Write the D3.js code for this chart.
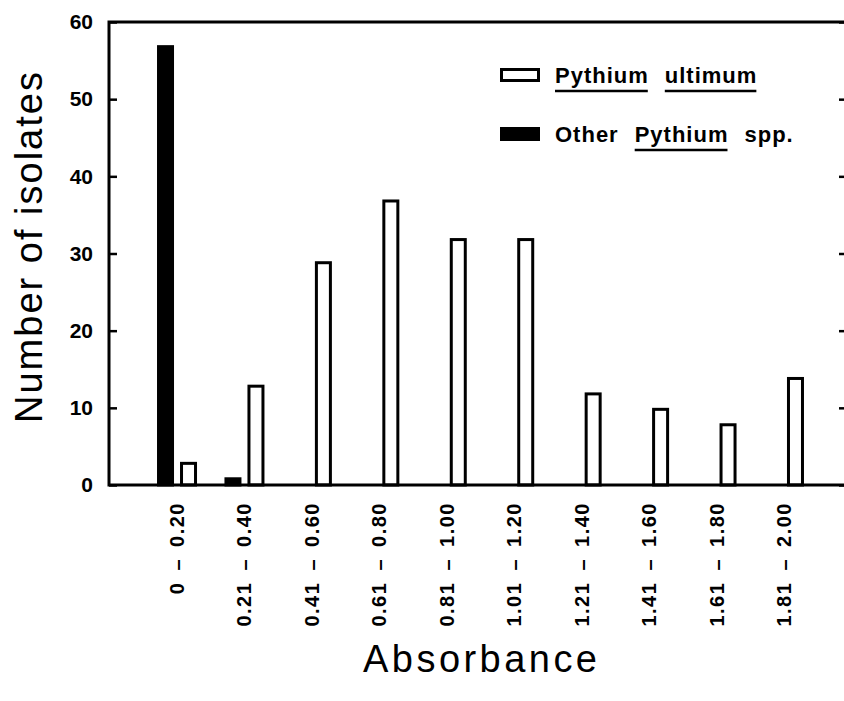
<!DOCTYPE html>
<html>
<head>
<meta charset="utf-8">
<script src="https://cdn.jsdelivr.net/npm/d3@7"></script>
<style>
  body { margin: 0; background: #fff; }
  text { font-family: "Liberation Sans", Arial, Helvetica, sans-serif; fill: #000; }
</style>
</head>
<body>
<div id="chart"></div>
<script>
// Absorbance histogram - Pythium isolates

// Data
var categories = ["0 – 0.20", "0.21 – 0.40", "0.41 – 0.60", "0.61 – 0.80", "0.81 – 1.00",
                  "1.01 – 1.20", "1.21 – 1.40", "1.41 – 1.60", "1.61 – 1.80", "1.81 – 2.00"];
var ultimumCounts = [3, 13, 29, 37, 32, 32, 12, 10, 8, 14];
var otherCounts = [57, 1, 0, 0, 0, 0, 0, 0, 0, 0];
var yTicks = [0, 10, 20, 30, 40, 50, 60];

// series order inside a group (left to right) and legend rows (top to bottom)
var seriesKeys = ["other", "ultimum"];
var legendKeys = ["ultimum", "other"];
var legendWords = [["Pythium", "ultimum"], ["Other", "Pythium", "spp."]];
var legendUnderlined = [[true, true], [false, true, false]];
var seriesFill = { ultimum: "#fff", other: "#000" };

// SVG area
var svgWidth = 844;
var svgHeight = 701;

var margin = { top: 22, right: -2, bottom: 216, left: 109 };
var width = svgWidth - margin.left - margin.right;   // 737
var height = svgHeight - margin.top - margin.bottom; // 463

var svg = d3.select("#chart")
  .append("svg")
  .attr("width", svgWidth)
  .attr("height", svgHeight);

var chartGroup = svg.append("g")
  .attr("transform", `translate(${margin.left}, ${margin.top})`);

var data = categories.map(function(c, i) {
  return { cat: c, other: otherCounts[i], ultimum: ultimumCounts[i] };
});

// scales
var x0 = d3.scaleBand()
  .domain(categories)
  .range([34.3, 708.7]);

var x1 = d3.scaleBand()
  .domain(seriesKeys)
  .range([-20, 20])
  .paddingInner(6 / 23);

var yScale = d3.scaleLinear()
  .domain([0, 60])
  .range([height, 0]);

// bars
var groups = chartGroup.selectAll("g.group")
  .data(data)
  .enter()
  .append("g")
  .attr("class", "group")
  .attr("transform", d => `translate(${x0(d.cat) + x0.bandwidth() / 2}, 0)`);

groups.selectAll("rect")
  .data(d => seriesKeys.map(k => ({ key: k, value: d[k] })).filter(e => e.value > 0))
  .enter()
  .append("rect")
  .attr("x", d => x1(d.key) + 1.5)
  .attr("width", x1.bandwidth() - 3)
  .attr("y", d => yScale(d.value) + 1.5)
  .attr("height", d => height - yScale(d.value) - 1.5)
  .attr("fill", d => seriesFill[d.key])
  .attr("stroke", "#000")
  .attr("stroke-width", 3);

// axes
var leftAxis = d3.axisLeft(yScale)
  .tickValues(yTicks)
  .tickSize(-8)
  .tickSizeOuter(0)
  .tickPadding(16);

var yAxisG = chartGroup.append("g")
  .call(leftAxis)
  .attr("font-family", null)
  .attr("font-size", 21)
  .attr("font-weight", "bold");
yAxisG.select(".domain").remove();
yAxisG.selectAll(".tick line").attr("stroke", "#000").attr("stroke-width", 2.5);

var rightAxis = d3.axisRight(yScale)
  .tickValues(yTicks)
  .tickSize(-7)
  .tickSizeOuter(0)
  .tickFormat("");

var rAxisG = chartGroup.append("g")
  .attr("transform", `translate(${width}, 0)`)
  .call(rightAxis);
rAxisG.select(".domain").remove();
rAxisG.selectAll(".tick line").attr("stroke", "#000").attr("stroke-width", 2.5);

var bottomAxis = d3.axisBottom(x0)
  .tickSize(0)
  .tickSizeOuter(0);

var xAxisG = chartGroup.append("g")
  .attr("transform", `translate(0, ${height})`)
  .call(bottomAxis)
  .attr("font-family", null)
  .attr("font-size", 20)
  .attr("font-weight", "bold");
xAxisG.select(".domain").remove();
xAxisG.selectAll("text")
  .attr("transform", "rotate(-90)")
  .attr("x", -17)
  .attr("y", 0)
  .attr("dy", "0.35em")
  .style("text-anchor", "end")
  .style("letter-spacing", "1.5px")
  .style("word-spacing", "4px");

// plot frame
chartGroup.append("rect")
  .attr("x", 0)
  .attr("y", 0)
  .attr("width", width)
  .attr("height", height)
  .attr("fill", "none")
  .attr("stroke", "#000")
  .attr("stroke-width", 3);

// legend
var legendTop = [68, 127];
legendKeys.forEach(function(key, i) {
  svg.append("rect")
    .attr("x", 501.5)
    .attr("y", legendTop[i] + 1.5)
    .attr("width", 37)
    .attr("height", 11)
    .attr("fill", seriesFill[key])
    .attr("stroke", "#000")
    .attr("stroke-width", 3);

  var cursor = 555;
  var baseline = legendTop[i] + 15;
  legendWords[i].forEach(function(word, j) {
    var t = svg.append("text")
      .attr("x", cursor)
      .attr("y", baseline)
      .attr("font-size", 22)
      .attr("font-weight", "bold")
      .style("letter-spacing", "1px")
      .text(word);
    var len = t.node().getComputedTextLength();
    if (legendUnderlined[i][j]) {
      svg.append("line")
        .attr("x1", cursor)
        .attr("x2", cursor + len - 1)
        .attr("y1", baseline + 8)
        .attr("y2", baseline + 8)
        .attr("stroke", "#000")
        .attr("stroke-width", 2.5);
    }
    cursor += len + 16;
  });
});

// axis titles
svg.append("text")
  .attr("transform", "translate(42, 247.5) rotate(-90)")
  .attr("text-anchor", "middle")
  .attr("font-size", 38)
  .attr("textLength", 351)
  .text("Number of isolates");

svg.append("text")
  .attr("x", 480)
  .attr("y", 672)
  .attr("text-anchor", "middle")
  .attr("font-size", 38)
  .attr("textLength", 234)
  .text("Absorbance");
</script>
</body>
</html>
